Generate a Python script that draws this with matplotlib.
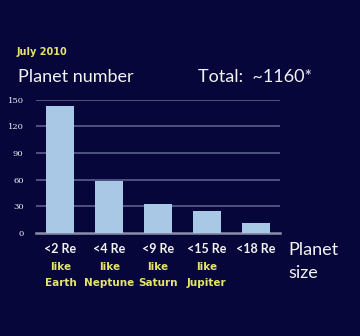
import matplotlib.pyplot as plt

# data
sizes = ['<2 Re', '<4 Re', '<9 Re', '<15 Re', '<18 Re']
likes = ['Earth', 'Neptune', 'Saturn', 'Jupiter', '']
counts = [143, 58, 33, 25, 11]
yticks = [0, 30, 60, 90, 120, 150]

bg = '#06063a'
bar_color = '#a9c8e6'
grid_color = '#5b5f8c'
yellow = '#e4e46c'
white = '#f2f2f2'

plt.rcParams['font.family'] = ['Lato', 'DejaVu Sans']

fig = plt.figure(figsize=(3.6, 3.36), dpi=100, facecolor=bg)
ax = fig.add_axes([0.1, 0.3065, 0.678, 0.397])
ax.set_facecolor(bg)

x = list(range(len(counts)))
ax.bar(x, counts, width=0.57, color=bar_color, zorder=3)
ax.set_xlim(-0.5, len(counts) - 0.5)
ax.set_ylim(0, 150)
ax.set_yticks(yticks)
ax.set_yticklabels([str(t) for t in yticks], fontsize=6, color=white, fontfamily='DejaVu Serif')
ax.tick_params(axis='y', length=0, pad=9)
ax.set_xticks([])
for t in yticks[1:]:
    ax.axhline(t, color=grid_color, lw=1.2, zorder=1)
for s in ['top', 'right', 'left']:
    ax.spines[s].set_visible(False)
ax.spines['bottom'].set_color('#8a8fa8')
ax.spines['bottom'].set_linewidth(1.8)

# category labels under the bars
for i, (s, lk) in enumerate(zip(sizes, likes)):
    ax.text(i, -18, s, ha='center', va='center', fontsize=9, fontweight='bold', color=white)
    if lk:
        ax.text(i, -38, 'like', ha='center', va='center', fontsize=7.5,
                fontweight='bold', color=yellow, fontfamily='DejaVu Sans')
        ax.text(i, -56, lk, ha='center', va='center', fontsize=7.5,
                fontweight='bold', color=yellow, fontfamily='DejaVu Sans')

fig.text(17 / 360, 1 - 52 / 336, 'July 2010', fontsize=7, fontweight='bold', color=yellow,
         va='center', fontfamily='DejaVu Sans')
fig.text(18 / 360, 1 - 77 / 336, 'Planet number', fontsize=13, color=white, va='center')
fig.text(198 / 360, 1 - 77 / 336, 'Total:  ~1160*', fontsize=13, color=white, va='center')
fig.text(288 / 360, 1 - 250 / 336, 'Planet', fontsize=13, color=white, va='center')
fig.text(288 / 360, 1 - 273 / 336, 'size', fontsize=13, color=white, va='center')

fig.savefig('out.png', dpi=100, facecolor=bg)
